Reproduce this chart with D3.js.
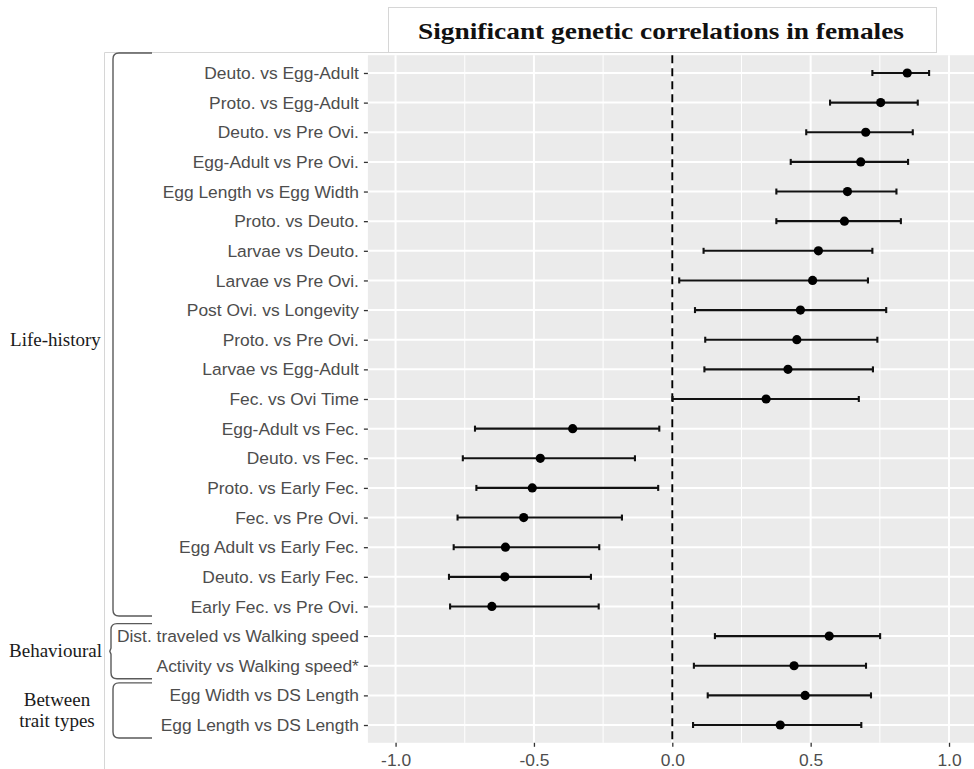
<!DOCTYPE html>
<html>
<head>
<meta charset="utf-8">
<script src="https://cdnjs.cloudflare.com/ajax/libs/d3/7.8.5/d3.min.js"></script>
<style>
  body { margin: 0; background: #fff; }
  svg { display: block; }
</style>
</head>
<body>
<div id="container"></div>
<script>
var WIDTH = 974;
var HEIGHT = 769;

// rows, top to bottom
const labels = [
  'Deuto. vs Egg-Adult', 'Proto. vs Egg-Adult', 'Deuto. vs Pre Ovi.',
  'Egg-Adult vs Pre Ovi.', 'Egg Length vs Egg Width', 'Proto. vs Deuto.',
  'Larvae vs Deuto.', 'Larvae vs Pre Ovi.', 'Post Ovi. vs Longevity',
  'Proto. vs Pre Ovi.', 'Larvae vs Egg-Adult', 'Fec. vs Ovi Time',
  'Egg-Adult vs Fec.', 'Deuto. vs Fec.', 'Proto. vs Early Fec.',
  'Fec. vs Pre Ovi.', 'Egg Adult vs Early Fec.', 'Deuto. vs Early Fec.',
  'Early Fec. vs Pre Ovi.', 'Dist. traveled vs Walking speed',
  'Activity vs Walking speed*', 'Egg Width vs DS Length', 'Egg Length vs DS Length'
];
const estimate = [0.849, 0.753, 0.699, 0.681, 0.633, 0.622, 0.528, 0.507, 0.463, 0.450,
  0.418, 0.339, -0.360, -0.477, -0.506, -0.537, -0.603, -0.605, -0.652, 0.567, 0.440, 0.480, 0.390];
const lower = [0.723, 0.570, 0.484, 0.428, 0.376, 0.376, 0.113, 0.025, 0.082, 0.119,
  0.116, 0.001, -0.713, -0.757, -0.708, -0.776, -0.790, -0.807, -0.803, 0.154, 0.078, 0.128, 0.075];
const upper = [0.928, 0.887, 0.869, 0.852, 0.810, 0.826, 0.723, 0.707, 0.773, 0.741,
  0.725, 0.674, -0.047, -0.135, -0.051, -0.182, -0.264, -0.294, -0.266, 0.751, 0.700, 0.718, 0.683];

const xTicks = [-1, -0.5, 0, 0.5, 1];
const xMinor = [-0.75, -0.25, 0.25, 0.75];

const groups = [
  { name: ['Life-history'], from: 0, to: 18 },
  { name: ['Behavioural'], from: 19, to: 20 },
  { name: ['Between', 'trait types'], from: 21, to: 22 }
];

const titleText = 'Significant genetic correlations in females';

var PANEL = { LEFT: 367.9, RIGHT: 976.7, TOP: 55.2, BOTTOM: 742.8 };

const rows = labels.map((d, i) => ({ label: d, est: estimate[i], lo: lower[i], hi: upper[i] }));

const svg = d3.select('#container')
  .append('svg')
    .attr('width', WIDTH)
    .attr('height', HEIGHT);

const x = d3.scaleLinear()
            .domain([-1.1, 1.1])
            .range([PANEL.LEFT, PANEL.RIGHT]);

const y = d3.scalePoint()
            .domain(labels)
            .range([PANEL.TOP, PANEL.BOTTOM])
            .padding(0.6);

// left box + title box
svg.append('path')
   .attr('d', `M104.5,${HEIGHT} L104.5,52.5 L388,52.5`)
   .attr('fill', 'none')
   .attr('stroke', '#d6d6d6')
   .attr('stroke-width', 1);

svg.append('rect')
   .attr('x', 388.5).attr('y', 7.5)
   .attr('width', 548).attr('height', 45)
   .attr('fill', '#fff')
   .attr('stroke', '#d6d6d6')
   .attr('stroke-width', 1);

svg.append('text')
   .attr('x', 661).attr('y', 38.5)
   .attr('text-anchor', 'middle')
   .attr('textLength', 486)
   .attr('lengthAdjust', 'spacingAndGlyphs')
   .style('font-family', '"Liberation Serif", "DejaVu Serif", serif')
   .style('font-weight', 'bold')
   .style('font-size', '24px')
   .attr('fill', '#111')
   .text(titleText);

// panel
svg.append('rect')
   .attr('x', PANEL.LEFT).attr('y', PANEL.TOP)
   .attr('width', PANEL.RIGHT - PANEL.LEFT)
   .attr('height', PANEL.BOTTOM - PANEL.TOP)
   .attr('fill', '#ebebeb');

const grid = svg.append('g');

grid.selectAll('.minor')
    .data(xMinor)
    .enter()
    .append('line')
    .attr('x1', d => x(d)).attr('x2', d => x(d))
    .attr('y1', PANEL.TOP).attr('y2', PANEL.BOTTOM)
    .attr('stroke', '#fff').attr('stroke-width', 1);

grid.selectAll('.major')
    .data(xTicks)
    .enter()
    .append('line')
    .attr('x1', d => x(d)).attr('x2', d => x(d))
    .attr('y1', PANEL.TOP).attr('y2', PANEL.BOTTOM)
    .attr('stroke', '#fff').attr('stroke-width', 2);

grid.selectAll('.hrow')
    .data(labels)
    .enter()
    .append('line')
    .attr('x1', PANEL.LEFT).attr('x2', PANEL.RIGHT)
    .attr('y1', d => y(d)).attr('y2', d => y(d))
    .attr('stroke', '#fff').attr('stroke-width', 2);

// reference line at zero
svg.append('line')
   .attr('x1', x(0)).attr('x2', x(0))
   .attr('y1', PANEL.TOP).attr('y2', PANEL.BOTTOM)
   .attr('stroke', '#000')
   .attr('stroke-width', 1.9)
   .attr('stroke-dasharray', '8,5');

// error bars
const bars = svg.selectAll('.bar')
                .data(rows)
                .enter()
                .append('g')
                .attr('class', 'bar')
                .attr('stroke', '#111')
                .attr('stroke-width', 2.1);

bars.append('line')
    .attr('x1', d => x(d.lo)).attr('x2', d => x(d.hi))
    .attr('y1', d => y(d.label)).attr('y2', d => y(d.label));

bars.append('line')
    .attr('x1', d => x(d.lo)).attr('x2', d => x(d.lo))
    .attr('y1', d => y(d.label) - 3).attr('y2', d => y(d.label) + 3);

bars.append('line')
    .attr('x1', d => x(d.hi)).attr('x2', d => x(d.hi))
    .attr('y1', d => y(d.label) - 3).attr('y2', d => y(d.label) + 3);

svg.selectAll('.pt')
   .data(rows)
   .enter()
   .append('circle')
   .attr('cx', d => x(d.est))
   .attr('cy', d => y(d.label))
   .attr('r', 4.6)
   .attr('fill', '#000');

// axes
const yAxis = svg.append('g')
   .attr('transform', `translate(${PANEL.LEFT},0)`)
   .call(d3.axisLeft(y).tickSize(4).tickPadding(5));

const xAxis = svg.append('g')
   .attr('transform', `translate(0,${PANEL.BOTTOM})`)
   .call(d3.axisBottom(x).tickValues(xTicks).tickFormat(d => d.toFixed(1)).tickSize(4).tickPadding(7));

[yAxis, xAxis].forEach(a => {
  a.select('.domain').remove();
  a.selectAll('line').attr('stroke', '#333').attr('stroke-width', 1.3);
  a.selectAll('text')
   .attr('fill', '#4d4d4d')
   .style('font-family', '"Liberation Sans", Arial, sans-serif')
   .style('font-size', '17.4px');
});

// group braces
function brace(x0, y0, y1, xr, notch) {
  var ym = (y0 + y1) / 2;
  return `M${xr},${y0} L${x0 + 6},${y0} Q${x0},${y0} ${x0},${y0 + 6}` +
         ` L${x0},${ym - 3} L${x0 - notch},${ym} L${x0},${ym + 3}` +
         ` L${x0},${y1 - 6} Q${x0},${y1} ${x0 + 6},${y1} L${xr},${y1}`;
}

const gs = svg.selectAll('.grp')
              .data(groups)
              .enter()
              .append('g');

gs.append('path')
  .attr('d', (d, i) => {
    var top = i == 0 ? 53 : y(labels[d.from]) - 12.5;
    var bot = i == 0 ? 616 : y(labels[d.to]) + 13;
    return brace(i == 1 ? 111 : 113, top, bot, 152, i == 1 ? 1.2 : 0);
  })
  .attr('fill', 'none')
  .attr('stroke', '#5a5a5a')
  .attr('stroke-width', 1.4);

gs.each(function(d, i) {
  var mid = (y(labels[d.from]) + y(labels[d.to])) / 2;
  var lines = d.name;
  var t = d3.select(this).append('text')
            .attr('text-anchor', 'middle')
            .style('font-family', '"Liberation Serif", "DejaVu Serif", serif')
            .style('font-size', '19px')
            .attr('fill', '#1a1a1a');
  lines.forEach((s, k) => {
    t.append('tspan')
     .attr('x', i == 2 ? 57 : 55.5)
     .attr('y', mid + 6 + (k - (lines.length - 1) / 2) * 21)
     .text(s);
  });
});
</script>
</body>
</html>
